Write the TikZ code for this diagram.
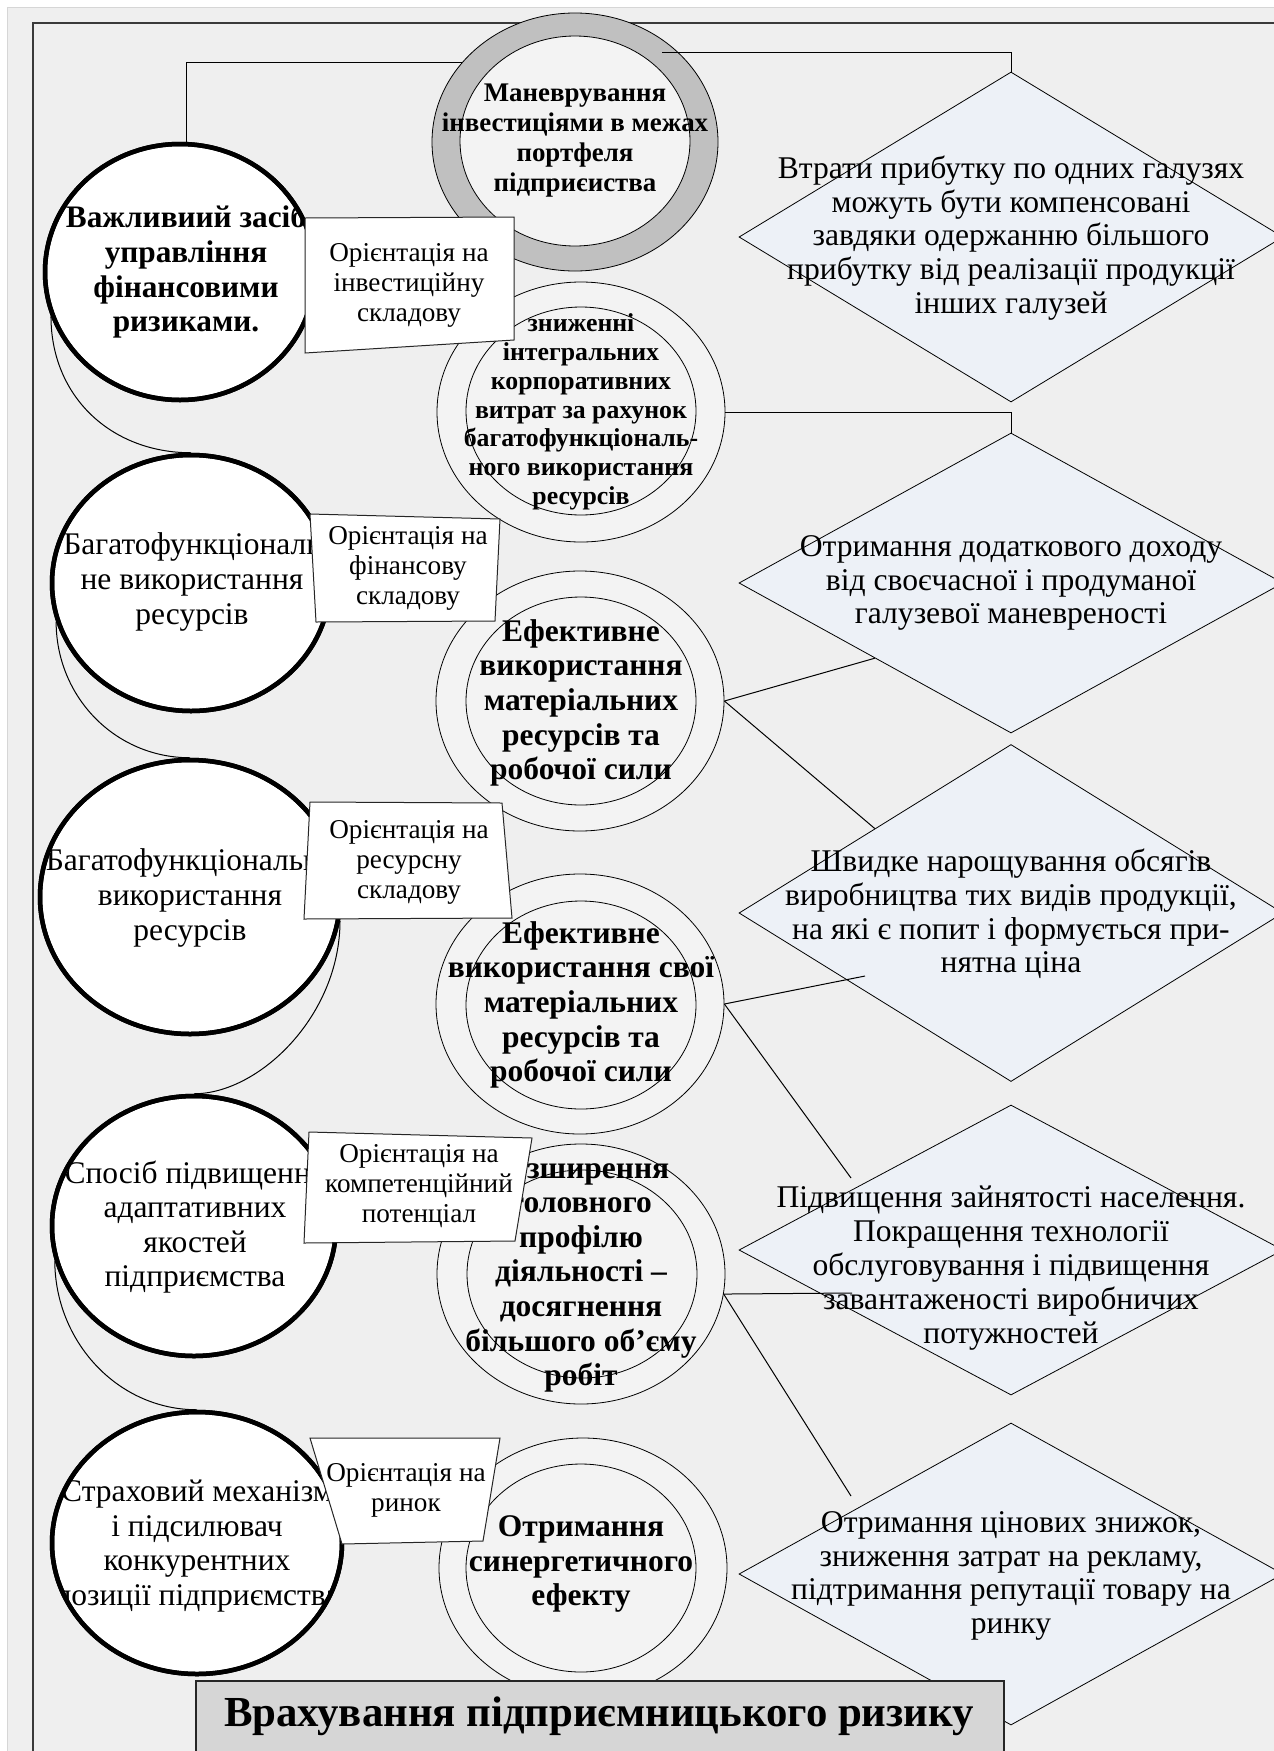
\documentclass[tikz,border=0pt]{standalone}
\usepackage{fontspec}
\setmainfont{Liberation Serif}
\usetikzlibrary{shapes.geometric,calc}
\definecolor{bgc}{HTML}{EFEFEF}
\definecolor{lineg}{HTML}{D6D6D6}
\definecolor{midfill}{HTML}{F3F3F3}
\definecolor{ringc}{HTML}{C0C0C0}
\definecolor{dfill}{HTML}{EDF1F7}
\definecolor{botfill}{HTML}{D6D6D6}
\definecolor{framec}{HTML}{3A3A3A}
\pgfdeclarelayer{back}
\pgfdeclarelayer{links}
\pgfsetlayers{back,links,main}
\begin{document}
\begin{tikzpicture}[x=1pt,y=-1pt,
  lell/.style={ellipse, draw, line width=4.5pt, fill=white, inner sep=0pt},
  lborder/.style={line width=4.5pt},
  mell/.style={ellipse, draw, line width=0.8pt, fill=midfill, minimum width=288pt, minimum height=260pt, inner sep=0pt},
  iell/.style={ellipse, draw, line width=0.8pt, fill=midfill, minimum width=230pt, minimum height=208pt, inner sep=0pt},
  dia/.style={diamond, draw, line width=0.8pt, fill=dfill, minimum width=544pt, inner sep=0pt},
  conn/.style={line width=1pt},
  boxst/.style={draw=black!85, line width=1pt, fill=white},
  ltxtb/.style={align=center, inner sep=0pt, font=\bfseries\fontsize{31.3pt}{34.6pt}\selectfont},
  ltxt/.style={align=center, inner sep=0pt, font=\fontsize{31.5pt}{34.6pt}\selectfont},
  mtxt/.style={align=center, inner sep=0pt, font=\bfseries\fontsize{31.5pt}{34.6pt}\selectfont},
  rtxt/.style={align=center, inner sep=0pt, font=\bfseries\fontsize{26.9pt}{30pt}\selectfont},
  mtwo/.style={align=center, inner sep=0pt, font=\bfseries\fontsize{25.8pt}{28.8pt}\selectfont},
  dtxt/.style={align=center, inner sep=0pt, font=\fontsize{31.6pt}{33.8pt}\selectfont},
  btxt/.style={align=center, inner sep=0pt, font=\fontsize{27.2pt}{30pt}\selectfont},
  bottxt/.style={align=center, inner sep=0pt, font=\bfseries\fontsize{42.8pt}{48pt}\selectfont}
]
\useasboundingbox (0,0) rectangle (1274,1751);

% ---------- background ----------
\begin{pgfonlayer}{back}
\fill[white] (0,0) rectangle (1274,1751);
\draw[draw=lineg, fill=bgc] (7,7) rectangle (1300,1800);
\draw[framec, line width=1.5pt] (33,1800) -- (33,23) -- (1300,23);
\end{pgfonlayer}

% ---------- left ellipses ----------
\node[lell, minimum width=270pt, minimum height=256pt] (e1) at (180,272) {};
\node[lell, minimum width=278pt, minimum height=256pt] (e2) at (191,583) {};
\node[lell, minimum width=300pt, minimum height=274pt] (e3) at (190,897) {};
\node[lell, minimum width=284pt, minimum height=260pt] (e4) at (194,1226) {};
\node[lell, minimum width=290pt, minimum height=262pt] (e5) at (197,1543) {};

% ---------- middle ellipses ----------
\node[mell, fill=ringc, minimum width=286pt, minimum height=258pt] (ring) at (575,142) {};
\node[iell, minimum height=210pt] (ringin) at (575,141) {};
\node[mell] (m2) at (581,412) {};
\node[iell] (m2in) at (581,411) {};
\node[mell] (m3) at (580,701) {};
\node[iell] (m3in) at (581,701) {};
\node[mell] (m4) at (580,1004) {};
\node[iell] (m4in) at (581,1005) {};
\node[mell] (m5) at (581,1274) {};
\node[iell] (m5in) at (582,1274) {};
\node[mell] (m6) at (583,1568) {};
\node[iell] (m6in) at (581,1568) {};

% ---------- diamonds ----------
\node[dia, minimum height=330pt] (d1) at (1011,237) {};
\node[dia, minimum height=300pt] (d2) at (1011,583) {};
\node[dia, minimum height=337pt] (d3) at (1011,913) {};
\node[dia, minimum height=290pt] (d4) at (1011,1250) {};
\node[dia, minimum height=302pt] (d5) at (1011,1574) {};

% ---------- left connectors (behind) ----------
\begin{pgfonlayer}{links}
\draw[conn] (e1.87) |- (ring.145);
\draw[conn] (e1.199) .. controls +(0,80) and +(-80,0) .. (e2.north);
\draw[conn] (e2.196) .. controls +(0,75) and +(-75,0) .. (e3.north);
\draw[conn] (e3.-9) .. controls +(0,95) and +(65,0) .. (e4.north);
\draw[conn] (e4.194) .. controls +(0,80) and +(-80,0) .. (e5.north);
\end{pgfonlayer}

% ---------- left texts (clipped) ----------
\begin{scope}
\clip (e1.center) ellipse [x radius=133pt, y radius=126pt];
\node[ltxtb] (e1t) at (186,272) {Важливиий засіб\\управління\\фінансовими\\ризиками.};
\end{scope}
\draw[lborder] (e1.center) ellipse [x radius=135pt, y radius=128pt];
\begin{scope}
\clip (e2.center) ellipse [x radius=137pt, y radius=126pt];
\node[ltxt] (e2t) at (192,582) {Багатофункціональ\\не використання\\ресурсів};
\end{scope}
\draw[lborder] (e2.center) ellipse [x radius=139pt, y radius=128pt];
\begin{scope}
\clip (e3.center) ellipse [x radius=148pt, y radius=135pt];
\node[ltxt] (e3t) at (190,898) {Багатофункціональне\\використання\\ресурсів};
\end{scope}
\draw[lborder] (e3.center) ellipse [x radius=150pt, y radius=137pt];
\begin{scope}
\clip (e4.center) ellipse [x radius=140pt, y radius=128pt];
\node[ltxt] (e4t) at (195,1227) {Спосіб підвищення\\адаптативних\\якостей\\підприємства};
\end{scope}
\draw[lborder] (e4.center) ellipse [x radius=142pt, y radius=130pt];
\begin{scope}
\clip (e5.center) ellipse [x radius=143pt, y radius=129pt];
\node[ltxt] (e5t) at (197,1546) {Страховий механізм\\і підсилювач\\конкурентних\\позиції підприємства};
\end{scope}
\draw[lborder] (e5.center) ellipse [x radius=145pt, y radius=131pt];

% ---------- middle texts ----------
\node[rtxt] (ringt) at (575,141) {Маневрування\\інвестиціями в межах\\портфеля\\підприєиства};
\node[mtwo] (m2t) at (581,412) {зниженні\\інтегральних\\корпоративних\\витрат за рахунок\\багатофункціональ-\\ного використання\\ресурсів};
\node[mtxt] (m3t) at (581,703) {Ефективне\\використання\\матеріальних\\ресурсів та\\робочої сили};
\node[mtxt] (m4t) at (581,1005) {Ефективне\\використання свої\\матеріальних\\ресурсів та\\робочої сили};
\node[mtxt] (m5t) at (581,1275) {Розширення\\головного\\профілю\\діяльності –\\досягнення\\більшого об’єму\\робіт};
\node[mtxt] (m6t) at (581,1564) {Отримання\\синергетичного\\ефекту};

% ---------- diamond texts ----------
\node[dtxt] (d1t) at (1011,238) {Втрати прибутку по одних галузях\\можуть бути компенсовані\\завдяки одержанню більшого\\прибутку від реалізації продукції\\інших галузей};
\node[dtxt] (d2t) at (1011,583) {Отримання додаткового доходу\\від своєчасної і продуманої\\галузевої маневреності};
\node[dtxt] (d3t) at (1011,914) {Швидке нарощування обсягів\\виробництва тих видів продукції,\\на які є попит і формується при-\\нятна ціна};
\node[dtxt] (d4t) at (1011,1268) {Підвищення зайнятості населення.\\Покращення технології\\обслуговування і підвищення\\завантаженості виробничих\\потужностей};
\node[dtxt] (d5t) at (1011,1576) {Отримання цінових знижок,\\зниження затрат на рекламу,\\підтримання репутації товару на\\ринку};

% ---------- right connectors ----------
\coordinate (r1) at ($(ring.center)+(87,-90)$);
\coordinate (p43) at (865,976);
\coordinate (p44) at (851,1178);
\coordinate (p54) at (852,1293);
\coordinate (p55) at (851,1496);
\draw[conn] (r1) -| (d1.north);
\draw[conn] (m2.east) -| (d2.north);
\draw[conn] (m3.east) -- (d2.south west);
\draw[conn] (m3.east) -- (d3.north west);
\draw[conn] (m4.east) -- (p43);
\draw[conn] (m4.east) -- (p44);
\draw[conn] (m5.-8) -- (p54);
\draw[conn] (m5.-8) -- (p55);

% ---------- orientation boxes ----------
\draw[boxst] (305,218) -- (514,217) -- (514,340) -- (305,353) -- cycle;
\node[btxt] (b1t) at (409,285) {Орієнтація на\\інвестиційну\\складову};
\draw[boxst] (310,514) -- (500,519) -- (495,621) -- (316,622) -- cycle;
\node[btxt] (b2t) at (408,568) {Орієнтація на\\фінансову\\складову};
\draw[boxst] (310,802) -- (502,803) -- (512,918) -- (304,919) -- cycle;
\node[btxt] (b3t) at (409,862) {Орієнтація на\\ресурсну\\складову};
\draw[boxst] (309,1132) -- (532,1138) -- (515,1241) -- (304,1243) -- cycle;
\node[btxt] (b4t) at (419,1186) {Орієнтація на\\компетенційний\\потенціал};
\draw[boxst] (310,1438) -- (500,1438) -- (483,1541) -- (342,1544) -- cycle;
\node[btxt] (b5t) at (406,1490) {Орієнтація на\\ринок};

% ---------- bottom box ----------
\node[draw=black!85, line width=1.8pt, fill=botfill, minimum width=808pt, minimum height=120pt, anchor=north west, inner sep=0pt] (bot) at (195,1680) {};
\node[bottxt] (bott) at (599,1716) {Врахування підприємницького ризику};
\end{tikzpicture}
\end{document}
